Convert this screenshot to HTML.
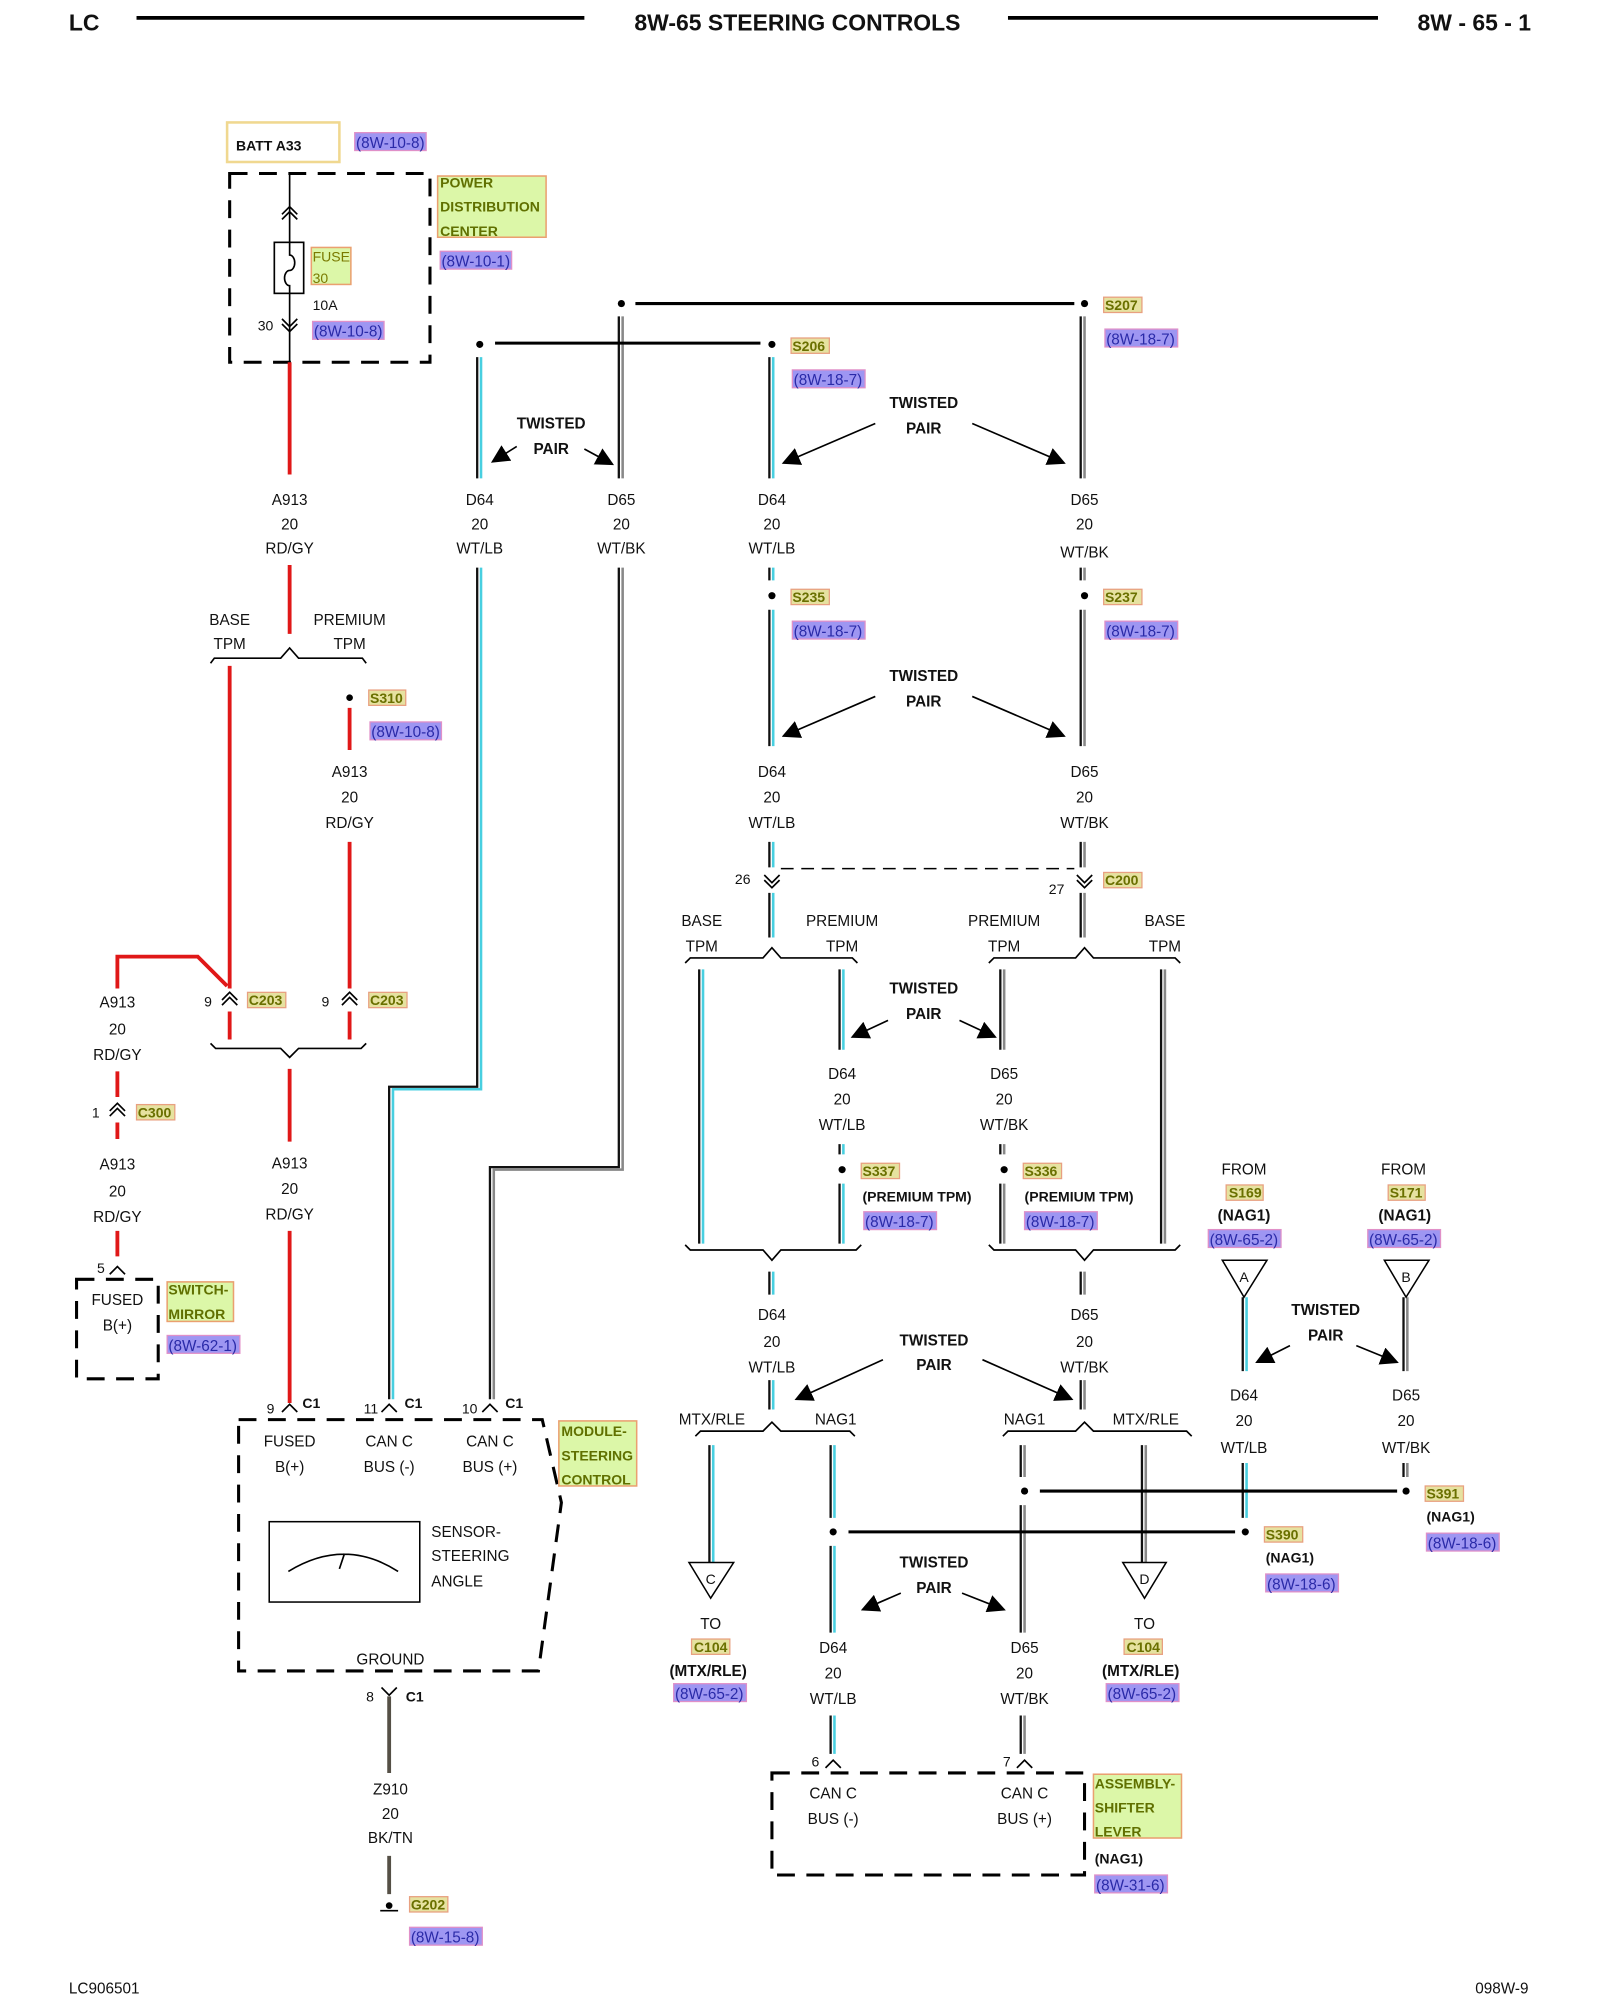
<!DOCTYPE html>
<html><head><meta charset="utf-8"><style>
html,body{margin:0;padding:0;background:#fff;}
svg{display:block;}
text{font-family:"Liberation Sans",Arial,sans-serif;font-size:12px;fill:#111;}
.m{text-anchor:middle;}
.b{font-weight:bold;}
.h{font-size:18px;font-weight:bold;}
.y{font-size:11px;font-weight:bold;fill:#6a7000;}
.r{font-size:12px;fill:#2a2aa8;}
.g{font-size:12px;font-weight:bold;fill:#607000;}
.yr{fill:#e6e2a0;stroke:#e8a080;stroke-width:1;}
.rr{fill:#9e96f2;stroke:#e090c8;stroke-width:1;}
.gr{fill:#dcf7a8;stroke:#eaa070;stroke-width:1.2;}
.red{stroke:#e01818;stroke-width:3;fill:none;}
.k{stroke:#111;stroke-width:1.8;fill:none;}
.cy{stroke:#48cfe0;stroke-width:2;fill:none;}
.gy{stroke:#888;stroke-width:2;fill:none;}
.ln{stroke:#000;stroke-width:1.3;fill:none;}
.thk{stroke:#000;stroke-width:2.4;fill:none;}
.ds{stroke:#000;stroke-width:2.4;fill:none;stroke-dasharray:14,9;}
.dl{stroke:#000;stroke-width:1.2;fill:none;stroke-dasharray:10,6;}
</style></head><body>
<svg width="1600" height="2000" viewBox="0 0 1254 1568" preserveAspectRatio="none" xmlns="http://www.w3.org/2000/svg">
<defs>
<marker id="ar" viewBox="0 0 10 10" refX="9" refY="5" markerWidth="11" markerHeight="11" orient="auto"><path d="M0,0 L10,5 L0,10 z" fill="#000"/></marker>
</defs>
<!-- header -->
<text x="54" y="24" class="h">LC</text>
<line x1="107" y1="14" x2="458" y2="14" stroke="#000" stroke-width="3"/>
<text x="625" y="24" class="h m">8W-65 STEERING CONTROLS</text>
<line x1="790" y1="14" x2="1080" y2="14" stroke="#000" stroke-width="3"/>
<text x="1200" y="24" class="h" text-anchor="end">8W - 65 - 1</text>
<text x="54" y="1563" style="font-size:12px">LC906501</text>
<text x="1198" y="1563" style="font-size:12px" text-anchor="end">098W-9</text>

<!-- top left: batt / PDC -->
<rect x="178" y="96" width="88" height="31" fill="none" stroke="#f0d890" stroke-width="2"/>
<text x="185" y="118" class="b" style="font-size:11px">BATT A33</text>
<rect x="278" y="104" width="56" height="14" class="rr"/><text x="279" y="116" class="r">(8W-10-8)</text>
<rect x="180" y="136" width="157" height="148" class="ds"/>
<line x1="227" y1="136" x2="227" y2="284" class="ln"/>
<path d="M221,168 l6,-6 l6,6 M221,172 l6,-6 l6,6" class="ln"/>
<path d="M221,250 l6,6 l6,-6 M221,254 l6,6 l6,-6" class="ln"/>
<rect x="215" y="190" width="23" height="40" fill="#fff" stroke="#000" stroke-width="1.3"/>
<path d="M227,190 L227,200 a4,6 0 0 1 0,12 a4,6 0 0 0 0,12 L227,230" class="ln"/>
<rect x="244" y="194" width="31" height="29" class="gr"/>
<text x="245" y="205" style="font-size:11px;fill:#7a7a00">FUSE</text><text x="245" y="222" style="font-size:11px;fill:#7a7a00">30</text>
<text x="245" y="243" style="font-size:11px">10A</text>
<text x="202" y="259" style="font-size:11px">30</text>
<rect x="245" y="252" width="56" height="14" class="rr"/><text x="246" y="264" class="r">(8W-10-8)</text>
<rect x="343" y="138" width="85" height="48" class="gr"/>
<text x="345" y="147" class="g" style="font-size:11px">POWER</text>
<text x="345" y="166" class="g" style="font-size:11px">DISTRIBUTION</text>
<text x="345" y="185" class="g" style="font-size:11px">CENTER</text>
<rect x="345" y="197" width="56" height="14" class="rr"/><text x="346" y="209" class="r">(8W-10-1)</text>

<!-- red wires -->
<path class="red" d="M227,284 V372 M227,443 V497 M180,522 V775 M274,555 V588 M274,660 V775 M92,775 V750 H155 L178,773 M180,793 V815 M274,793 V815 M227,838 V895 M227,965 V1100 M92,840 V860 M92,880 V893 M92,965 V985"/>
<text x="227" y="396" class="m">A913</text><text x="227" y="415" class="m">20</text><text x="227" y="434" class="m">RD/GY</text>
<text x="180" y="490" class="m">BASE</text><text x="180" y="509" class="m">TPM</text>
<text x="274" y="490" class="m">PREMIUM</text><text x="274" y="509" class="m">TPM</text>
<path class="ln" d="M165,520 l3,-4 H220 L227,508 L234,516 H284 l3,4"/>
<circle cx="274" cy="547" r="2.6"/>
<rect x="289" y="541" width="29" height="12" class="yr"/><text x="290" y="551" class="y">S310</text>
<rect x="290" y="566" width="56" height="14" class="rr"/><text x="291" y="578" class="r">(8W-10-8)</text>
<text x="274" y="609" class="m">A913</text><text x="274" y="629" class="m">20</text><text x="274" y="649" class="m">RD/GY</text>
<!-- C203 -->
<path class="ln" d="M174,788 l6,-6 l6,6 M174,784 l6,-6 l6,6 M268,788 l6,-6 l6,6 M268,784 l6,-6 l6,6"/>
<text x="160" y="789" style="font-size:11px">9</text><text x="252" y="789" style="font-size:11px">9</text>
<rect x="194" y="778" width="30" height="12" class="yr"/><text x="195" y="788" class="y">C203</text>
<rect x="289" y="778" width="30" height="12" class="yr"/><text x="290" y="788" class="y">C203</text>
<path class="ln" d="M165,818 l4,4 H220 L227,829 L234,822 H283 l4,-4"/>
<text x="227" y="916" class="m">A913</text><text x="227" y="936" class="m">20</text><text x="227" y="956" class="m">RD/GY</text>
<!-- left column -->
<text x="92" y="790" class="m">A913</text><text x="92" y="811" class="m">20</text><text x="92" y="831" class="m">RD/GY</text>
<path class="ln" d="M86,875 l6,-6 l6,6 M86,871 l6,-6 l6,6"/>
<text x="72" y="876" style="font-size:11px">1</text>
<rect x="107" y="866" width="30" height="12" class="yr"/><text x="108" y="876" class="y">C300</text>
<text x="92" y="917" class="m">A913</text><text x="92" y="938" class="m">20</text><text x="92" y="958" class="m">RD/GY</text>
<path class="ln" d="M86,999 l6,-6 l6,6"/>
<text x="76" y="998" style="font-size:11px">5</text>
<rect x="60" y="1003" width="64" height="78" class="ds"/>
<text x="92" y="1023" class="m">FUSED</text><text x="92" y="1043" class="m">B(+)</text>
<rect x="131" y="1005" width="52" height="31" class="gr"/>
<text x="132" y="1015" class="g" style="font-size:11px">SWITCH-</text><text x="132" y="1034" class="g" style="font-size:11px">MIRROR</text>
<rect x="131" y="1047" width="57" height="14" class="rr"/><text x="132" y="1059" class="r">(8W-62-1)</text>

<!-- module steering control -->
<path class="ds" d="M187,1113 H425 L440,1178 L422,1310 H187 Z"/>
<path class="ln" d="M221,1107 l6,-6 l6,6 M299,1107 l6,-6 l6,6 M378,1107 l6,-6 l6,6"/>
<text x="209" y="1108" style="font-size:11px">9</text><text x="237" y="1104" class="b" style="font-size:11px">C1</text>
<text x="285" y="1108" style="font-size:11px">11</text><text x="317" y="1104" class="b" style="font-size:11px">C1</text>
<text x="362" y="1108" style="font-size:11px">10</text><text x="396" y="1104" class="b" style="font-size:11px">C1</text>
<text x="227" y="1134" class="m">FUSED</text><text x="227" y="1154" class="m">B(+)</text>
<text x="305" y="1134" class="m">CAN C</text><text x="305" y="1154" class="m">BUS (-)</text>
<text x="384" y="1134" class="m">CAN C</text><text x="384" y="1154" class="m">BUS (+)</text>
<rect x="438" y="1114" width="61" height="51" class="gr"/>
<text x="440" y="1126" class="g" style="font-size:11px">MODULE-</text><text x="440" y="1145" class="g" style="font-size:11px">STEERING</text><text x="440" y="1164" class="g" style="font-size:11px">CONTROL</text>
<rect x="211" y="1193" width="118" height="63" fill="none" stroke="#000" stroke-width="1.2"/>
<path class="ln" d="M226,1232 Q270,1205 312,1232 M270,1218 L266,1230"/>
<text x="338" y="1205">SENSOR-</text><text x="338" y="1224">STEERING</text><text x="338" y="1244">ANGLE</text>
<text x="306" y="1305" class="m">GROUND</text>
<path class="ln" d="M299,1323 l6,6 l6,-6"/>
<text x="287" y="1334" style="font-size:11px">8</text><text x="318" y="1334" class="b" style="font-size:11px">C1</text>
<path d="M305,1330 V1390 M305,1455 V1485" stroke="#555046" stroke-width="3" fill="none"/>
<text x="306" y="1407" class="m">Z910</text><text x="306" y="1426" class="m">20</text><text x="306" y="1445" class="m">BK/TN</text>
<path class="ln" d="M298,1498 H312"/><circle cx="305" cy="1494" r="2.6"/>
<rect x="321" y="1487" width="30" height="12" class="yr"/><text x="322" y="1497" class="y">G202</text>
<rect x="321" y="1511" width="57" height="14" class="rr"/><text x="322" y="1523" class="r">(8W-15-8)</text>

<!-- CYAN (D64) pairs -->
<g>
<path class="k" d="M305,1097 V852 H374 V445 M374,280 V375 M603,280 V375 M603,445 V455 M603,478 V585 M603,660 V680 M603,700 V735 M548,760 V975 M658,760 V823 M658,897 V905 M658,928 V975 M603,997 V1015 M603,1082 V1105 M556,1133 V1225 M651,1133 V1190 M651,1212 V1280 M651,1345 V1375 M974,1017 V1075 M974,1147 V1190"/>
<path class="cy" transform="translate(3,2)" d="M305,1095 V852 H374 V443 M374,278 V373 M603,278 V373 M603,443 V453 M603,476 V583 M603,658 V678 M603,698 V733 M548,758 V973 M658,758 V821 M658,895 V903 M658,926 V973 M603,995 V1013 M603,1080 V1103 M556,1131 V1223 M651,1131 V1188 M651,1210 V1278 M651,1343 V1373 M974,1015 V1073 M974,1145 V1188"/>
</g>
<!-- GRAY (D65) pairs -->
<g>
<path class="k" d="M384,1097 V915 H485 V445 M485,248 V375 M847,248 V375 M847,445 V455 M847,478 V585 M847,660 V680 M847,700 V735 M784,760 V823 M784,897 V905 M784,928 V975 M910,760 V975 M847,997 V1015 M847,1082 V1105 M800,1133 V1158 M800,1180 V1280 M800,1345 V1375 M895,1133 V1225 M1100,1017 V1075 M1100,1147 V1158"/>
<path class="gy" transform="translate(3,2)" d="M384,1095 V915 H485 V443 M485,246 V373 M847,246 V373 M847,443 V453 M847,476 V583 M847,658 V678 M847,698 V733 M784,758 V821 M784,895 V903 M784,926 V973 M910,758 V973 M847,995 V1013 M847,1080 V1103 M800,1131 V1156 M800,1178 V1278 M800,1343 V1373 M895,1131 V1223 M1100,1015 V1073 M1100,1145 V1156"/>
</g>

<!-- top splices -->
<circle cx="376" cy="270" r="2.8"/><line x1="388" y1="269" x2="596" y2="269" class="thk"/><circle cx="605" cy="270" r="2.8"/>
<circle cx="487" cy="238" r="2.8"/><line x1="498" y1="238" x2="842" y2="238" class="thk"/><circle cx="850" cy="238" r="2.8"/>
<rect x="620" y="265" width="30" height="12" class="yr"/><text x="621" y="275" class="y">S206</text>
<rect x="621" y="290" width="57" height="14" class="rr"/><text x="622" y="302" class="r">(8W-18-7)</text>
<rect x="865" y="233" width="30" height="12" class="yr"/><text x="866" y="243" class="y">S207</text>
<rect x="866" y="258" width="57" height="14" class="rr"/><text x="867" y="270" class="r">(8W-18-7)</text>
<text x="432" y="336" class="m b">TWISTED</text><text x="432" y="356" class="m b">PAIR</text>
<line x1="405" y1="350" x2="386" y2="362" class="ln" marker-end="url(#ar)"/>
<line x1="458" y1="352" x2="480" y2="364" class="ln" marker-end="url(#ar)"/>
<text x="376" y="396" class="m">D64</text><text x="376" y="415" class="m">20</text><text x="376" y="434" class="m">WT/LB</text>
<text x="487" y="396" class="m">D65</text><text x="487" y="415" class="m">20</text><text x="487" y="434" class="m">WT/BK</text>
<text x="724" y="320" class="m b">TWISTED</text><text x="724" y="340" class="m b">PAIR</text>
<line x1="686" y1="332" x2="614" y2="363" class="ln" marker-end="url(#ar)"/>
<line x1="762" y1="332" x2="834" y2="363" class="ln" marker-end="url(#ar)"/>
<text x="605" y="396" class="m">D64</text><text x="605" y="415" class="m">20</text><text x="605" y="434" class="m">WT/LB</text>
<text x="850" y="396" class="m">D65</text><text x="850" y="415" class="m">20</text><text x="850" y="437" class="m">WT/BK</text>
<circle cx="605" cy="467" r="2.8"/><circle cx="850" cy="467" r="2.8"/>
<rect x="620" y="462" width="30" height="12" class="yr"/><text x="621" y="472" class="y">S235</text>
<rect x="621" y="487" width="57" height="14" class="rr"/><text x="622" y="499" class="r">(8W-18-7)</text>
<rect x="865" y="462" width="30" height="12" class="yr"/><text x="866" y="472" class="y">S237</text>
<rect x="866" y="487" width="57" height="14" class="rr"/><text x="867" y="499" class="r">(8W-18-7)</text>
<text x="724" y="534" class="m b">TWISTED</text><text x="724" y="554" class="m b">PAIR</text>
<line x1="686" y1="546" x2="614" y2="577" class="ln" marker-end="url(#ar)"/>
<line x1="762" y1="546" x2="834" y2="577" class="ln" marker-end="url(#ar)"/>
<text x="605" y="609" class="m">D64</text><text x="605" y="629" class="m">20</text><text x="605" y="649" class="m">WT/LB</text>
<text x="850" y="609" class="m">D65</text><text x="850" y="629" class="m">20</text><text x="850" y="649" class="m">WT/BK</text>
<!-- C200 -->
<path class="ln" d="M599,686 l6,6 l6,-6 M599,690 l6,6 l6,-6 M844,686 l6,6 l6,-6 M844,690 l6,6 l6,-6"/>
<line x1="612" y1="681" x2="842" y2="681" class="dl"/>
<text x="576" y="693" style="font-size:11px">26</text><text x="822" y="701" style="font-size:11px">27</text>
<rect x="865" y="684" width="30" height="12" class="yr"/><text x="866" y="694" class="y">C200</text>
<text x="550" y="726" class="m">BASE</text><text x="550" y="746" class="m">TPM</text>
<text x="660" y="726" class="m">PREMIUM</text><text x="660" y="746" class="m">TPM</text>
<text x="787" y="726" class="m">PREMIUM</text><text x="787" y="746" class="m">TPM</text>
<text x="913" y="726" class="m">BASE</text><text x="913" y="746" class="m">TPM</text>
<path class="ln" d="M537,755 l4,-4 H598 L605,743 L612,751 H668 l4,4 M775,755 l4,-4 H843 L850,743 L857,751 H921 l4,4"/>
<text x="724" y="779" class="m b">TWISTED</text><text x="724" y="799" class="m b">PAIR</text>
<line x1="696" y1="800" x2="668" y2="813" class="ln" marker-end="url(#ar)"/>
<line x1="752" y1="800" x2="780" y2="813" class="ln" marker-end="url(#ar)"/>
<text x="660" y="846" class="m">D64</text><text x="660" y="866" class="m">20</text><text x="660" y="886" class="m">WT/LB</text>
<text x="787" y="846" class="m">D65</text><text x="787" y="866" class="m">20</text><text x="787" y="886" class="m">WT/BK</text>
<circle cx="660" cy="917" r="2.8"/><circle cx="787" cy="917" r="2.8"/>
<rect x="675" y="912" width="30" height="12" class="yr"/><text x="676" y="922" class="y">S337</text>
<text x="676" y="942" class="b" style="font-size:11px">(PREMIUM TPM)</text>
<rect x="677" y="950" width="57" height="14" class="rr"/><text x="678" y="962" class="r">(8W-18-7)</text>
<rect x="802" y="912" width="30" height="12" class="yr"/><text x="803" y="922" class="y">S336</text>
<text x="803" y="942" class="b" style="font-size:11px">(PREMIUM TPM)</text>
<rect x="803" y="950" width="57" height="14" class="rr"/><text x="804" y="962" class="r">(8W-18-7)</text>
<path class="ln" d="M537,976 l4,4 H598 L605,988 L612,980 H671 l4,-4 M775,976 l4,4 H843 L850,988 L857,980 H921 l4,-4"/>
<text x="605" y="1035" class="m">D64</text><text x="605" y="1056" class="m">20</text><text x="605" y="1076" class="m">WT/LB</text>
<text x="850" y="1035" class="m">D65</text><text x="850" y="1056" class="m">20</text><text x="850" y="1076" class="m">WT/BK</text>
<text x="732" y="1055" class="m b">TWISTED</text><text x="732" y="1074" class="m b">PAIR</text>
<line x1="692" y1="1066" x2="624" y2="1097" class="ln" marker-end="url(#ar)"/>
<line x1="770" y1="1066" x2="840" y2="1097" class="ln" marker-end="url(#ar)"/>
<text x="558" y="1117" class="m">MTX/RLE</text><text x="655" y="1117" class="m">NAG1</text>
<text x="803" y="1117" class="m">NAG1</text><text x="898" y="1117" class="m">MTX/RLE</text>
<path class="ln" d="M545,1126 l4,-4 H598 L605,1115 L612,1122 H666 l4,4 M786,1126 l4,-4 H843 L850,1115 L857,1122 H930 l4,4"/>
<!-- C / D triangles -->
<path d="M540,1225 H575 L557,1253 Z" fill="#fff" stroke="#000" stroke-width="1.2"/><text x="557" y="1242" class="m" style="font-size:11px">C</text>
<text x="557" y="1277" class="m">TO</text>
<rect x="542" y="1285" width="30" height="12" class="yr"/><text x="557" y="1295" class="y m">C104</text>
<text x="555" y="1314" class="m b">(MTX/RLE)</text>
<rect x="528" y="1320" width="57" height="14" class="rr"/><text x="529" y="1332" class="r">(8W-65-2)</text>
<path d="M880,1225 H914 L897,1253 Z" fill="#fff" stroke="#000" stroke-width="1.2"/><text x="897" y="1242" class="m" style="font-size:11px">D</text>
<text x="897" y="1277" class="m">TO</text>
<rect x="881" y="1285" width="30" height="12" class="yr"/><text x="896" y="1295" class="y m">C104</text>
<text x="894" y="1314" class="m b">(MTX/RLE)</text>
<rect x="867" y="1320" width="57" height="14" class="rr"/><text x="868" y="1332" class="r">(8W-65-2)</text>
<!-- splices S390 / S391 -->
<circle cx="653" cy="1201" r="2.8"/><line x1="665" y1="1201" x2="968" y2="1201" class="thk"/><circle cx="976" cy="1201" r="2.8"/>
<circle cx="803" cy="1169" r="2.8"/><line x1="815" y1="1169" x2="1095" y2="1169" class="thk"/><circle cx="1102" cy="1169" r="2.8"/>
<rect x="991" y="1197" width="30" height="12" class="yr"/><text x="992" y="1207" class="y">S390</text>
<text x="992" y="1225" class="b" style="font-size:11px">(NAG1)</text>
<rect x="992" y="1234" width="57" height="14" class="rr"/><text x="993" y="1246" class="r">(8W-18-6)</text>
<rect x="1117" y="1165" width="30" height="12" class="yr"/><text x="1118" y="1175" class="y">S391</text>
<text x="1118" y="1193" class="b" style="font-size:11px">(NAG1)</text>
<rect x="1118" y="1202" width="57" height="14" class="rr"/><text x="1119" y="1214" class="r">(8W-18-6)</text>
<text x="732" y="1229" class="m b">TWISTED</text><text x="732" y="1249" class="m b">PAIR</text>
<line x1="706" y1="1249" x2="676" y2="1262" class="ln" marker-end="url(#ar)"/>
<line x1="754" y1="1249" x2="787" y2="1262" class="ln" marker-end="url(#ar)"/>
<text x="653" y="1296" class="m">D64</text><text x="653" y="1316" class="m">20</text><text x="653" y="1336" class="m">WT/LB</text>
<text x="803" y="1296" class="m">D65</text><text x="803" y="1316" class="m">20</text><text x="803" y="1336" class="m">WT/BK</text>
<path class="ln" d="M647,1386 l6,-6 l6,6 M797,1386 l6,-6 l6,6"/>
<text x="636" y="1385" style="font-size:11px">6</text><text x="786" y="1385" style="font-size:11px">7</text>
<rect x="605" y="1390" width="245" height="80" class="ds"/>
<text x="653" y="1410" class="m">CAN C</text><text x="653" y="1430" class="m">BUS (-)</text>
<text x="803" y="1410" class="m">CAN C</text><text x="803" y="1430" class="m">BUS (+)</text>
<rect x="857" y="1391" width="69" height="50" class="gr"/>
<text x="858" y="1402" class="g" style="font-size:11px">ASSEMBLY-</text><text x="858" y="1421" class="g" style="font-size:11px">SHIFTER</text><text x="858" y="1440" class="g" style="font-size:11px">LEVER</text>
<text x="858" y="1461" class="b" style="font-size:11px">(NAG1)</text>
<rect x="858" y="1470" width="57" height="14" class="rr"/><text x="859" y="1482" class="r">(8W-31-6)</text>
<!-- FROM S169 / S171 -->
<text x="975" y="921" class="m">FROM</text>
<rect x="961" y="929" width="29" height="12" class="yr"/><text x="976" y="939" class="y m">S169</text>
<text x="975" y="957" class="m b">(NAG1)</text>
<rect x="947" y="964" width="57" height="14" class="rr"/><text x="948" y="976" class="r">(8W-65-2)</text>
<text x="1100" y="921" class="m">FROM</text>
<rect x="1088" y="929" width="29" height="12" class="yr"/><text x="1102" y="939" class="y m">S171</text>
<text x="1101" y="957" class="m b">(NAG1)</text>
<rect x="1072" y="964" width="57" height="14" class="rr"/><text x="1073" y="976" class="r">(8W-65-2)</text>
<path d="M958,988 H993 L975,1017 Z" fill="#fff" stroke="#000" stroke-width="1.2"/><text x="975" y="1005" class="m" style="font-size:11px">A</text>
<path d="M1085,988 H1120 L1102,1017 Z" fill="#fff" stroke="#000" stroke-width="1.2"/><text x="1102" y="1005" class="m" style="font-size:11px">B</text>
<text x="1039" y="1031" class="m b">TWISTED</text><text x="1039" y="1051" class="m b">PAIR</text>
<line x1="1011" y1="1055" x2="985" y2="1068" class="ln" marker-end="url(#ar)"/>
<line x1="1063" y1="1055" x2="1095" y2="1068" class="ln" marker-end="url(#ar)"/>
<text x="975" y="1098" class="m">D64</text><text x="975" y="1118" class="m">20</text><text x="975" y="1139" class="m">WT/LB</text>
<text x="1102" y="1098" class="m">D65</text><text x="1102" y="1118" class="m">20</text><text x="1102" y="1139" class="m">WT/BK</text>
</svg>
</body></html>
